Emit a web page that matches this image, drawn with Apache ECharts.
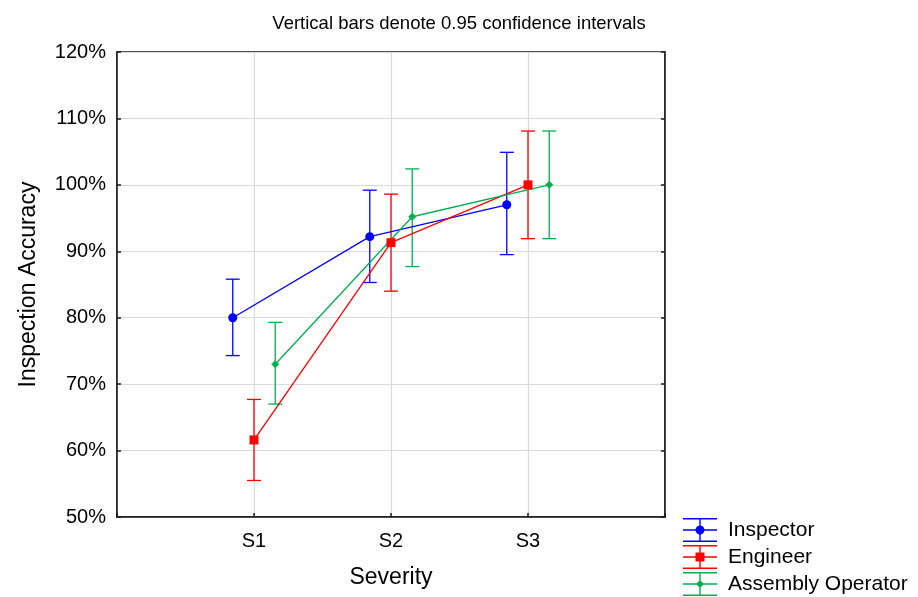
<!DOCTYPE html>
<html><head><meta charset="utf-8">
<script src="https://cdn.jsdelivr.net/npm/echarts@6/dist/echarts.min.js"></script>
<style>html,body{margin:0;padding:0;background:#fff}#c{width:918px;height:597px}</style>
</head><body><div id="c"></div>
<script>
const categories = ['S1', 'S2', 'S3'];
const yTicks = [50, 60, 70, 80, 90, 100, 110, 120];
const seriesNames = ['Inspector', 'Engineer', 'Assembly Operator'];
const inspectorMean = [80.0, 92.2, 97.0];
const inspectorLow  = [74.3, 85.3, 89.5];
const inspectorHigh = [85.8, 99.2, 104.9];
const engineerMean = [61.6, 91.3, 100.0];
const engineerLow  = [55.5, 84.0, 91.9];
const engineerHigh = [67.7, 98.6, 108.1];
const operatorMean = [73.0, 95.2, 100.0];
const operatorLow  = [67.0, 87.7, 91.9];
const operatorHigh = [79.3, 102.4, 108.1];

const colors = ['#0000ff', '#ff0000', '#00b050'];
const offsets = [-0.155, 0, 0.155];
const symbols = ['circle', 'rect', 'diamond'];
const symbolSizes = [9, 9, 8];
const means = [inspectorMean, engineerMean, operatorMean];
const lows = [inspectorLow, engineerLow, operatorLow];
const highs = [inspectorHigh, engineerHigh, operatorHigh];

function bars(m) {
  return 'M0 0 L34 0 L34 1.4 L0 1.4 Z M0 11.3 L34 11.3 L34 12.7 L0 12.7 Z M0 22.6 L34 22.6 L34 24 L0 24 Z M16.3 0 L17.7 0 L17.7 24 L16.3 24 Z ' + m;
}
const legendIcons = [
  'path://' + bars('M12.5 12 A4.5 4.5 0 1 1 21.5 12 A4.5 4.5 0 1 1 12.5 12 Z'),
  'path://' + bars('M12.5 7.5 L21.5 7.5 L21.5 16.5 L12.5 16.5 Z'),
  'path://' + bars('M17 8 L21 12 L17 16 L13 12 Z')
];

const FONT = 'Liberation Sans, Arial, sans-serif';
const series = [];
for (let s = 0; s < 3; s++) {
  const lineData = means[s].map((v, i) => [i + 1 + offsets[s], v]);
  const errData = means[s].map((v, i) => [i + 1 + offsets[s], lows[s][i], highs[s][i]]);
  series.push({
    name: seriesNames[s],
    type: 'custom',
    data: errData,
    encode: { x: 0, y: [1, 2] },
    z: 2,
    renderItem: function (params, api) {
      const x = api.value(0);
      const lo = api.coord([x, api.value(1)]);
      const hi = api.coord([x, api.value(2)]);
      const hw = 7;
      const st = { stroke: colors[s], lineWidth: 1.3 };
      return {
        type: 'group',
        children: [
          { type: 'line', shape: { x1: lo[0], y1: lo[1], x2: hi[0], y2: hi[1] }, style: st },
          { type: 'line', shape: { x1: lo[0] - hw, y1: lo[1], x2: lo[0] + hw, y2: lo[1] }, style: st },
          { type: 'line', shape: { x1: hi[0] - hw, y1: hi[1], x2: hi[0] + hw, y2: hi[1] }, style: st }
        ]
      };
    }
  });
  series.push({
    name: seriesNames[s],
    type: 'line',
    data: lineData,
    symbol: symbols[s],
    symbolSize: symbolSizes[s],
    showSymbol: true,
    z: 3,
    lineStyle: { color: colors[s], width: 1.3 },
    itemStyle: { color: colors[s] }
  });
}

const gridLine = { show: true, lineStyle: { color: '#d9d9d9', width: 1.2 } };
const chart = echarts.init(document.getElementById('c'));
chart.setOption({
  animation: false,
  textStyle: { fontFamily: FONT, color: '#000' },
  title: {
    text: 'Vertical bars denote 0.95 confidence intervals',
    left: 'center', top: 9,
    textStyle: { fontSize: 18.5, fontWeight: 'normal', color: '#000', fontFamily: FONT }
  },
  legend: {
    orient: 'vertical',
    left: 683, top: 518, padding: 0,
    itemWidth: 34, itemHeight: 24, itemGap: 3,
    data: seriesNames.map((n, i) => ({ name: n, icon: legendIcons[i], itemStyle: { color: colors[i] } })),
    textStyle: { fontSize: 21, color: '#000', fontFamily: FONT, padding: [0, 0, 0, 6] }
  },
  grid: { left: 117, top: 52, right: 253, bottom: 80, show: true, borderColor: '#1a1a1a', borderWidth: 1.5, backgroundColor: 'transparent' },
  xAxis: {
    type: 'value', min: 0, max: 4, interval: 1,
    name: 'Severity', nameLocation: 'middle', nameGap: 49,
    nameTextStyle: { fontSize: 23, color: '#000', fontFamily: FONT },
    axisLine: { show: true, lineStyle: { color: '#1a1a1a', width: 1.5 } },
    axisTick: { show: true, inside: true, length: 4, lineStyle: { color: '#1a1a1a', width: 1.5 } },
    splitLine: gridLine,
    axisLabel: {
      fontSize: 20, color: '#000', margin: 14, fontFamily: FONT,
      formatter: v => (v >= 1 && v <= 3) ? categories[v - 1] : ''
    }
  },
  yAxis: [{
    type: 'value', min: yTicks[0], max: yTicks[yTicks.length - 1], interval: 10,
    name: 'Inspection Accuracy', nameLocation: 'middle', nameGap: 77,
    nameTextStyle: { fontSize: 23, color: '#000', fontFamily: FONT },
    axisLine: { show: true, lineStyle: { color: '#1a1a1a', width: 1.5 } },
    axisTick: { show: true, inside: true, length: 4, lineStyle: { color: '#1a1a1a', width: 1.5 } },
    splitLine: gridLine,
    axisLabel: { fontSize: 20, color: '#000', margin: 11, fontFamily: FONT, formatter: v => v + '%' }
  }, {
    type: 'value', position: 'right', min: yTicks[0], max: yTicks[yTicks.length - 1], interval: 10,
    axisLine: { show: true, lineStyle: { color: '#1a1a1a', width: 1.5 } },
    axisTick: { show: true, inside: true, length: 4, lineStyle: { color: '#1a1a1a', width: 1.5 } },
    splitLine: { show: false },
    axisLabel: { show: false }
  }],
  series: series
});
</script>
</body></html>
